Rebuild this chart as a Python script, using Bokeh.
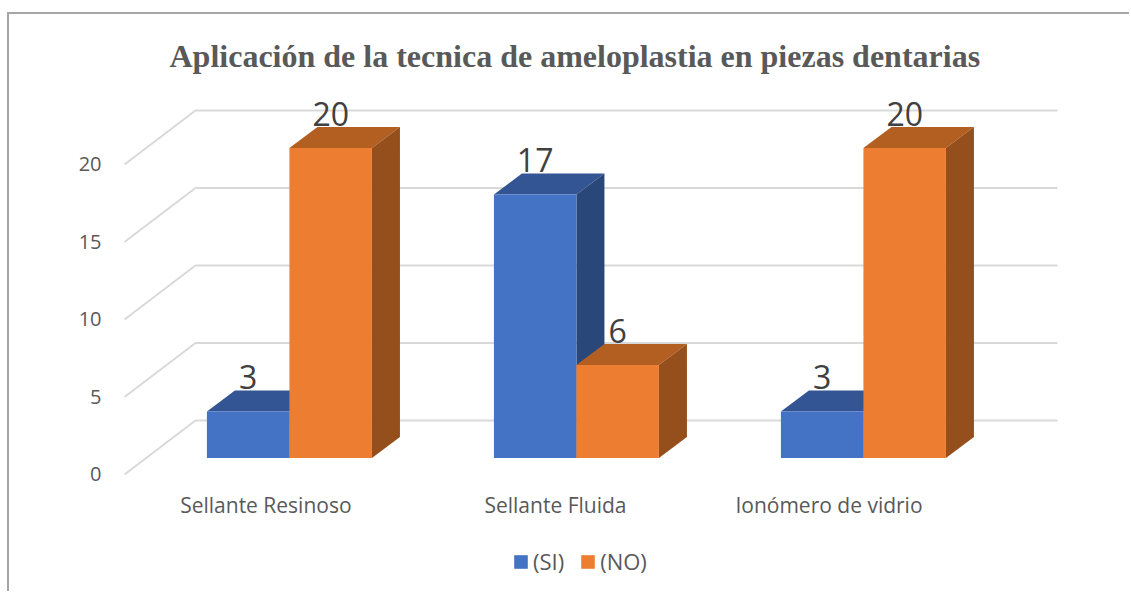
from bokeh.embed import file_html
from bokeh.resources import INLINE
from bokeh.plotting import figure
from bokeh.models import ColumnDataSource, FixedTicker, Legend, LegendItem
from bokeh.core.properties import value

# ---- data ----
categories = ["Sellante Resinoso", "Sellante Fluida", "Ionómero de vidrio"]
si_values = [3, 17, 3]
no_values = [20, 6, 20]
y_ticks = [0, 5, 10, 15, 20]
title_text = "Aplicación de la tecnica de ameloplastia en piezas dentarias"

# ---- 3D projection constants (in data units) ----
BAR_W = 0.2875
BAR_DX, BAR_DY = 0.0976, 1.355
FRONT_LIFT = 1.065
LABEL_LIFT = 0.84
WALL_DX, WALL_DY = 0.2474, 3.484
X_START, X_END = -0.6513, 2.6797
GRID_START = -0.5747
WALL_END = 2.676
Y_START, Y_END = -7.677, 24.77
AXIS_Y = -0.387
LABEL_SHIFT = [-0.082, -0.073, -0.12]

W, H = 1122, 579
p = figure(width=W, height=H, output_backend="svg", toolbar_location=None,
           x_range=(X_START, X_END), y_range=(Y_START, Y_END),
           min_border_left=93, min_border_right=73,
           min_border_top=76, min_border_bottom=0,
           outline_line_color=None, background_fill_color="white",
           margin=(12, 0, 0, 7),
           styles={"border-left": "2px solid #a6a6a6", "border-top": "2px solid #a6a6a6"})
p.grid.visible = False

# title
p.title.text = title_text
p.title.text_font = "Liberation Serif"
p.title.text_font_style = "bold"
p.title.text_font_size = "32px"
p.title.text_color = "#595959"
p.title.align = "left"
p.title.offset = 67
p.title.standoff = 33

# axes
ya = p.yaxis[0]
ya.ticker = FixedTicker(ticks=y_ticks)
ya.axis_line_color = None
ya.major_tick_line_color = None
ya.minor_tick_line_color = None
ya.major_tick_out = 0
ya.major_label_standoff = 1
ya.major_label_text_font = "Open Sans"
ya.major_label_text_font_size = "20px"
ya.major_label_text_color = "#595959"

xa = p.xaxis[0]
tick_pos = [i + s for i, s in enumerate(LABEL_SHIFT)]
xa.ticker = FixedTicker(ticks=tick_pos)
xa.major_label_overrides = {t: c for t, c in zip(tick_pos, categories)}
xa.fixed_location = AXIS_Y
xa.axis_line_color = None
xa.major_tick_line_color = None
xa.minor_tick_line_color = None
xa.major_tick_out = 0
xa.major_label_standoff = 11
xa.major_label_text_font = "Open Sans"
xa.major_label_text_font_size = "21px"
xa.major_label_text_color = "#595959"

# back-wall gridlines
p.multi_line(xs=[[GRID_START, GRID_START + WALL_DX, WALL_END] for _ in y_ticks],
             ys=[[v, v + WALL_DY, v + WALL_DY] for v in y_ticks],
             line_color="#d9d9d9", line_width=2)


def bars(values, offset, front, top, side):
    lefts = [i + offset for i in range(len(values))]
    rights = [l + BAR_W for l in lefts]
    base = FRONT_LIFT
    tops = [v + FRONT_LIFT for v in values]
    p.patches(xs=[[l, l + BAR_DX, r + BAR_DX, r] for l, r in zip(lefts, rights)],
              ys=[[t, t + BAR_DY, t + BAR_DY, t] for t in tops],
              fill_color=top, line_color=None)
    p.patches(xs=[[r, r + BAR_DX, r + BAR_DX, r] for r in rights],
              ys=[[base, base + BAR_DY, t + BAR_DY, t] for t in tops],
              fill_color=side, line_color=None)
    f = p.quad(left=lefts, right=rights, bottom=[base] * len(values), top=tops,
               fill_color=front, line_color=None)
    return f, lefts, tops


fsi, lsi, tsi = bars(si_values, -BAR_W, "#4472C4", "#335593", "#294779")
fno, lno, tno = bars(no_values, 0.0, "#ED7D31", "#B45F22", "#954F1C")

# data labels
for vals, ls, ts in ((si_values, lsi, tsi), (no_values, lno, tno)):
    src = ColumnDataSource(dict(x=[l + BAR_W / 2 for l in ls],
                                y=[t + BAR_DY + LABEL_LIFT for t in ts],
                                t=[str(v) for v in vals]))
    p.text("x", "y", text="t", source=src, text_align="center",
           text_baseline="alphabetic", text_font=value("Open Sans"),
           text_font_size="32px", text_color="#404040")

# legend
legend = Legend(items=[LegendItem(label="(SI)", renderers=[fsi]),
                       LegendItem(label="(NO)", renderers=[fno])],
                orientation="horizontal", location=(410, 17),
                background_fill_alpha=0, border_line_color=None,
                glyph_width=17, glyph_height=17, label_standoff=4,
                spacing=15, margin=0, padding=0,
                label_text_font="Open Sans", label_text_font_size="22px",
                label_text_color="#595959")
p.add_layout(legend)

open("out.html", "w").write(file_html(p, INLINE))
